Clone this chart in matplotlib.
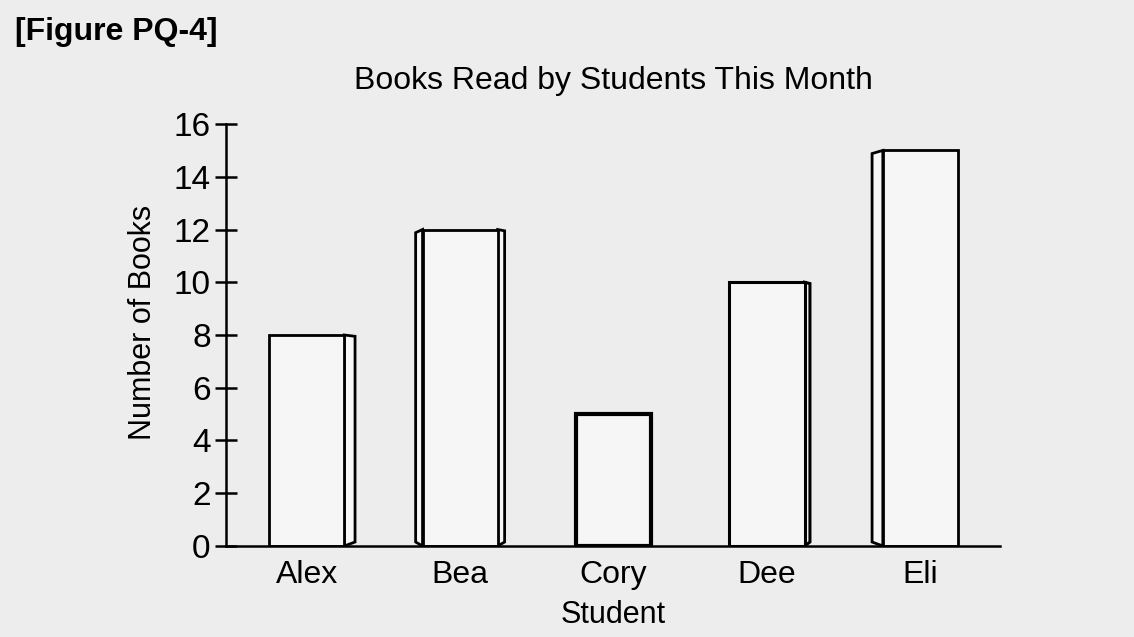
import numpy as np
import matplotlib.pyplot as plt
from matplotlib.patches import Polygon, Rectangle

# Data
students = ["Alex", "Bea", "Cory", "Dee", "Eli"]
books = [8, 12, 5, 10, 15]

# which side of each bar gets the little 3D edge
side_faces = ["right", "both", "none", "right", "left"]
side_widths = [0.07, 0.045, 0.0, 0.035, 0.07]
line_widths = [2.0, 2.0, 3.0, 2.2, 2.0]

plt.rcParams["font.family"] = ["Liberation Sans", "DejaVu Sans"]

bg = "#ededed"
fig = plt.figure(figsize=(11.34, 6.37), dpi=100, facecolor=bg)
ax = fig.add_axes([0.1993, 0.1429, 0.6827, 0.6624])
ax.set_facecolor(bg)

bar_w = 0.49
x = np.arange(len(students))
for i, (xi, v) in enumerate(zip(x, books)):
    lw = line_widths[i]
    xl, xr = xi - bar_w / 2, xi + bar_w / 2
    s = side_widths[i]
    if side_faces[i] in ("right", "both"):
        poly = Polygon([(xr, 0), (xr, v), (xr + s, v - 0.05), (xr + s, 0.15)],
                       closed=True, facecolor="#f7f7f7", edgecolor="black",
                       linewidth=lw, joinstyle="miter", zorder=2)
        ax.add_patch(poly)
    if side_faces[i] in ("left", "both"):
        poly = Polygon([(xl, 0), (xl, v), (xl - s, v - 0.12), (xl - s, 0.15)],
                       closed=True, facecolor="#f7f7f7", edgecolor="black",
                       linewidth=lw, joinstyle="miter", zorder=2)
        ax.add_patch(poly)
    ax.add_patch(Rectangle((xl, 0), bar_w, v, facecolor="#f6f6f6",
                           edgecolor="black", linewidth=lw,
                           joinstyle="miter", zorder=3))

ax.set_xlim(-0.526, 4.52)
ax.set_ylim(0, 16)
ax.set_yticks(np.arange(0, 17, 2))
ax.set_xticks(x)
ax.set_xticklabels(students)

for side in ("top", "right"):
    ax.spines[side].set_visible(False)
ax.spines["left"].set_linewidth(1.8)
ax.spines["bottom"].set_linewidth(1.8)
ax.spines["bottom"].set_zorder(4)

ax.tick_params(axis="y", direction="inout", length=16, width=1.8,
               labelsize=24, pad=3)
ax.tick_params(axis="x", length=0, labelsize=23, pad=10)

ax.set_title("Books Read by Students This Month", fontsize=23, pad=25)
ax.set_ylabel("Number of Books", fontsize=22)
ax.yaxis.set_label_coords(-0.088, 0.53)
ax.set_xlabel("Student", fontsize=22, labelpad=7)

fig.text(0.013, 0.95, "[Figure PQ-4]", fontsize=23, fontweight="bold",
         ha="left", va="center")

fig.savefig("out.png", dpi=100, facecolor=bg)
